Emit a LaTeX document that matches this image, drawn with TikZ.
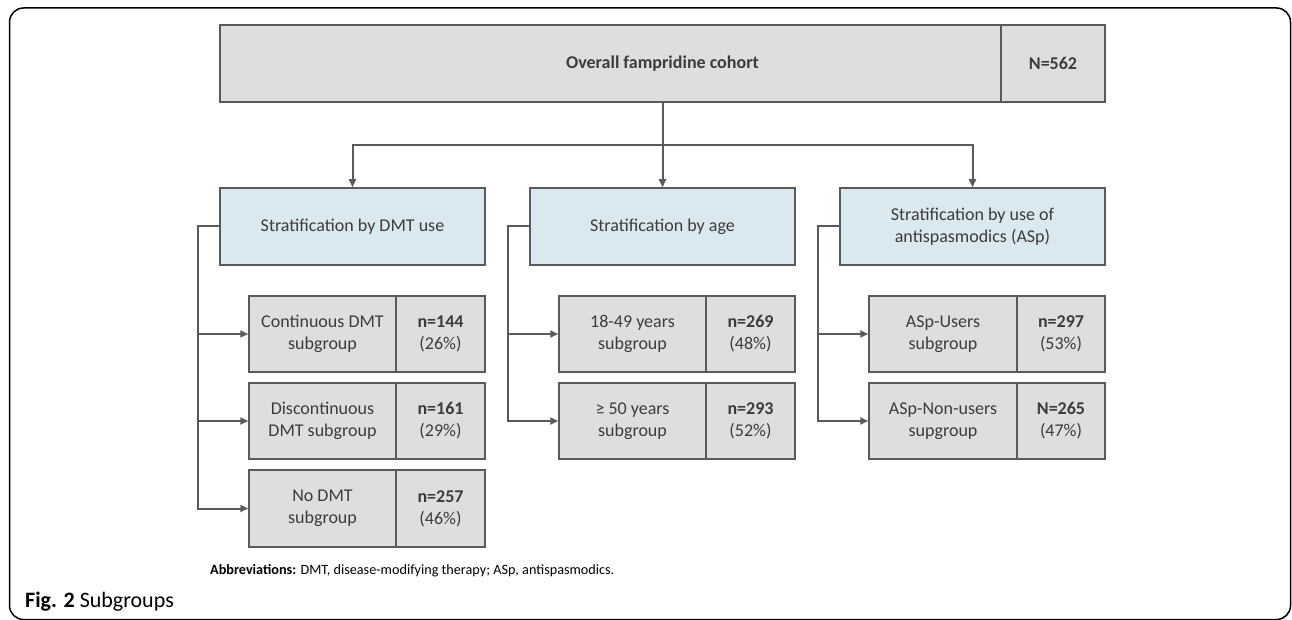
\documentclass[tikz,border=0pt]{standalone}
\usepackage{fontspec}
\setmainfont{Carlito}
\usetikzlibrary{arrows.meta}
\definecolor{boxgray}{HTML}{DDDEDE}
\definecolor{boxblue}{HTML}{DAE8EF}
\definecolor{edgegray}{HTML}{5A5A5A}
\definecolor{txt}{HTML}{3C3C3C}
\tikzset{
  base/.style={draw=edgegray, line width=1.5pt, rectangle, inner sep=0pt, align=center, text=txt,
    font=\fontsize{18}{22}\selectfont},
  graybox/.style={base, fill=boxgray},
  bluebox/.style={base, fill=boxblue, minimum width=265pt, minimum height=77pt},
  lpart/.style={graybox, minimum height=76pt},
  rpart/.style={graybox, minimum height=76pt, minimum width=89pt},
  conn/.style={draw=edgegray, line width=2pt},
  arr/.style={conn, -{Triangle[length=8pt,width=7pt]}},
}
\begin{document}
\begin{tikzpicture}[x=1pt,y=-1pt]
\useasboundingbox (0,0) rectangle (1292,620);
% outer frame
\draw[black, line width=1.5pt, rounded corners=14pt] (9.5,8) rectangle (1290.5,619.5);
% top box
\node[graybox, minimum width=885pt, minimum height=77pt, font=\fontsize{18}{22}\selectfont\bfseries] (top) at (662.5,63.5) {Overall fampridine cohort};
\node[graybox, minimum width=104pt, minimum height=77pt, font=\fontsize{18}{22}\selectfont\bfseries] (topN) at (1053,63.5) {N=562};
% stratification boxes
\node[bluebox] (s1) at (352.5,226.5) {Stratification by DMT use};
\node[bluebox] (s2) at (662.5,226.5) {Stratification by age};
\node[bluebox] (s3) at (972.5,226.5) {Stratification by use of\\antispasmodics (ASp)};
% column 1
\node[lpart, minimum width=147pt] (a1) at (322.5,334) {Continuous DMT\\subgroup};
\node[rpart] (a1n) at (440.5,334) {\textbf{n=144}\\(26\%)};
\node[lpart, minimum width=147pt] (a2) at (322.5,421) {Discontinuous\\DMT subgroup};
\node[rpart] (a2n) at (440.5,421) {\textbf{n=161}\\(29\%)};
\node[lpart, minimum width=147pt, minimum height=77pt] (a3) at (322.5,508.5) {No DMT\\subgroup};
\node[rpart, minimum height=77pt] (a3n) at (440.5,508.5) {\textbf{n=257}\\(46\%)};
% column 2
\node[lpart, minimum width=147pt] (b1) at (632.5,334) {18-49 years\\subgroup};
\node[rpart] (b1n) at (750.5,334) {\textbf{n=269}\\(48\%)};
\node[lpart, minimum width=147pt] (b2) at (632.5,421) {≥ 50 years\\subgroup};
\node[rpart] (b2n) at (750.5,421) {\textbf{n=293}\\(52\%)};
% column 3
\node[lpart, minimum width=148pt] (c1) at (943,334) {ASp-Users\\subgroup};
\node[rpart, minimum width=88pt] (c1n) at (1061,334) {\textbf{n=297}\\(53\%)};
\node[lpart, minimum width=148pt] (c2) at (943,421) {ASp-Non-users\\supgroup};
\node[rpart, minimum width=88pt] (c2n) at (1061,421) {\textbf{N=265}\\(47\%)};
% connectors
\coordinate (hub) at (662.5,145);
\draw[conn] (top.south) -- (hub);
\draw[arr] (hub) -| (s1.north);
\draw[arr] (hub) -- (s2.north);
\draw[arr] (hub) -| (s3.north);
\draw[arr] (s1.west) -- ++(-21,0) |- (a1.west);
\draw[arr] (s1.west) -- ++(-21,0) |- (a2.west);
\draw[arr] (s1.west) -- ++(-21,0) |- (a3.west);
\draw[arr] (s2.west) -- ++(-21,0) |- (b1.west);
\draw[arr] (s2.west) -- ++(-21,0) |- (b2.west);
\draw[arr] (s3.west) -- ++(-21,0) |- (c1.west);
\draw[arr] (s3.west) -- ++(-21,0) |- (c2.west);
% captions
\node[anchor=base west, inner sep=0pt, font=\fontsize{14.2}{16}\selectfont] (abbr) at (210,574) {\textbf{Abbreviations:} DMT, disease-modifying therapy; ASp, antispasmodics.};
\node[anchor=base west, inner sep=0pt, font=\fontsize{22}{25}\selectfont] (fig) at (25,607) {\textbf{Fig. 2} Subgroups};
\end{tikzpicture}
\end{document}
